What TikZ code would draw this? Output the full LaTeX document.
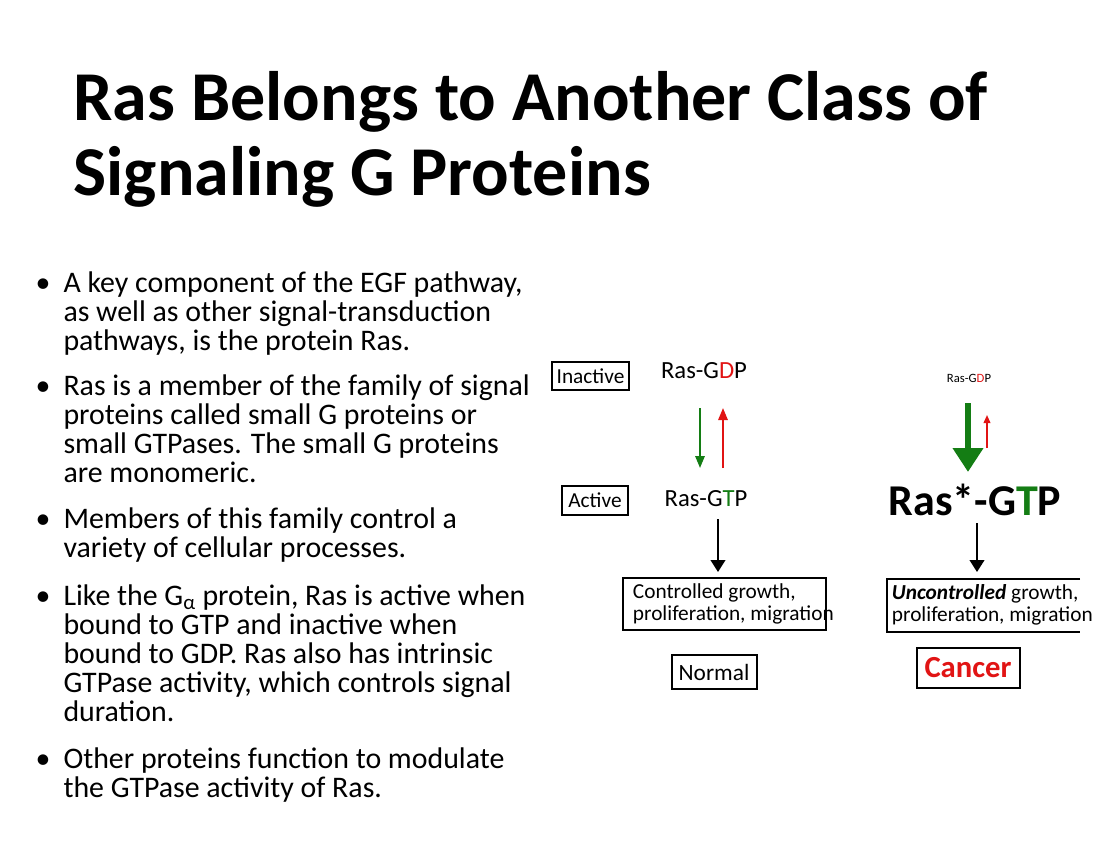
\documentclass[tikz,border=0pt]{standalone}
\usepackage{fontspec}
\setmainfont{Carlito}
\usetikzlibrary{arrows.meta}
\definecolor{rasgreen}{RGB}{20,125,20}
\definecolor{rasred}{RGB}{225,20,20}
\tikzset{every picture/.style={line width=0.75pt}}
\tikzset{
  lbox/.style={draw, line width=1.6pt, inner sep=0pt},
  btxt/.style={anchor=north west, inner sep=0pt, font=\fontsize{22.4}{21.75}\selectfont, align=left},
  bul/.style={anchor=base west, inner sep=0pt, font=\fontsize{22.4}{21.75}\selectfont},
  flow/.style={-{Triangle[length=9pt,width=11pt]}, line width=1.5pt}
}
\newcommand{\bul}{\textbullet}
\newcommand{\tstrut}{\rule{0pt}{16.5pt}}

\begin{document}
\begin{tikzpicture}[x=0.75pt,y=0.75pt,yscale=-1,xscale=1]
\useasboundingbox (0,0) rectangle (1100,850);

% title
\node[anchor=base west, inner sep=0pt, font=\fontsize{52.5}{52.5}\bfseries] (title1) at (73,120) {Ras Belongs to Another Class of};
\node[anchor=base west, inner sep=0pt, font=\fontsize{52.5}{52.5}\bfseries] (title2) at (73,195) {Signaling G Proteins};

% bullets
\node[bul] (b1) at (35,292) {\bul};
\node[btxt] (t1) at (63,270) {\tstrut A key component of the EGF pathway,\\as well as other signal-transduction\\pathways, is the protein Ras.};
\node[bul] (b2) at (35,395) {\bul};
\node[btxt] (t2) at (63,373) {\tstrut Ras is a member of the family of signal\\proteins called small G proteins or\\small GTPases. The small G proteins\\are monomeric.};
\node[bul] (b3) at (35,528) {\bul};
\node[btxt] (t3) at (63,506) {\tstrut Members of this family control a\\variety of cellular processes.};
\node[bul] (b4) at (35,605) {\bul};
\node[btxt] (t4) at (63,583) {\tstrut Like the G\textsubscript{α} protein, Ras is active when\\bound to GTP and inactive when\\bound to GDP. Ras also has intrinsic\\GTPase activity, which controls signal\\duration.};
\node[bul] (b5) at (35,768) {\bul};
\node[btxt] (t5) at (63,746) {\tstrut Other proteins function to modulate\\the GTPase activity of Ras.};

% left scheme
\draw[lbox] (552,362) rectangle (629,390);
\node[font=\fontsize{16}{16}\selectfont] (inact) at (590.5,376) {Inactive};
\node[font=\fontsize{18.5}{18.5}\selectfont] (gdpL) at (704,371) {Ras-G\textcolor{rasred}{D}P};
\draw[lbox] (562,486) rectangle (628,515);
\node[font=\fontsize{16}{16}\selectfont] (act) at (595,500.5) {Active};
\node[font=\fontsize{18.5}{18.5}\selectfont] (gtpL) at (706,499) {Ras-G\textcolor{rasgreen}{T}P};
\coordinate (gdnA) at (700,408);
\coordinate (gdnB) at (700,468);
\coordinate (rupA) at (723,468);
\coordinate (rupB) at (723,408);
\draw[-{Triangle[length=9pt,width=7pt]}, rasgreen, line width=1.5pt] (gdnA) -- (gdnB);
\draw[-{Triangle[length=9pt,width=7pt]}, rasred, line width=1.5pt] (rupA) -- (rupB);
\coordinate (kA) at (718,519);
\coordinate (kB) at (718,572);
\draw[flow] (kA) -- (kB);
\draw[lbox] (623,578) rectangle (826,630);
\node[anchor=west, align=left, font=\fontsize{16}{16.5}\selectfont] (ctrl) at (628,604) {Controlled growth,\\proliferation, migration};
\draw[lbox] (672,655) rectangle (757,689);
\node[font=\fontsize{17.5}{17.5}\selectfont] (norm) at (714,672) {Normal};

% right scheme
\node[font=\fontsize{9.5}{9.5}\selectfont] (gdpR) at (969,378) {Ras-G\textcolor{rasred}{D}P};
\coordinate (GdnA) at (968,403);
\coordinate (GdnB) at (968,472);
\draw[-{Triangle[length=18pt,width=22pt]}, rasgreen, line width=5pt] (GdnA) -- (GdnB);
\coordinate (RupA) at (987,448);
\coordinate (RupB) at (987,415);
\draw[-{Triangle[length=6pt,width=5pt]}, rasred, line width=1.2pt] (RupA) -- (RupB);
\node[font=\fontsize{33}{33}\bfseries] (gtpR) at (975,500) {Ras*-G\textcolor{rasgreen}{T}P};
\coordinate (KA) at (977,523);
\coordinate (KB) at (977,572);
\draw[flow] (KA) -- (KB);
\draw[lbox] (1080,579) -- (887,579) -- (887,632) -- (1080,632);
\node[anchor=west, align=left, font=\fontsize{16}{16.5}\selectfont] (unctrl) at (887,605) {\textit{\textbf{Uncontrolled}} growth,\\proliferation, migration};
\draw[lbox] (917,648) rectangle (1020,688);
\node[font=\fontsize{23}{23}\bfseries, text=rasred] (canc) at (968,668) {Cancer};
\end{tikzpicture}
\end{document}
